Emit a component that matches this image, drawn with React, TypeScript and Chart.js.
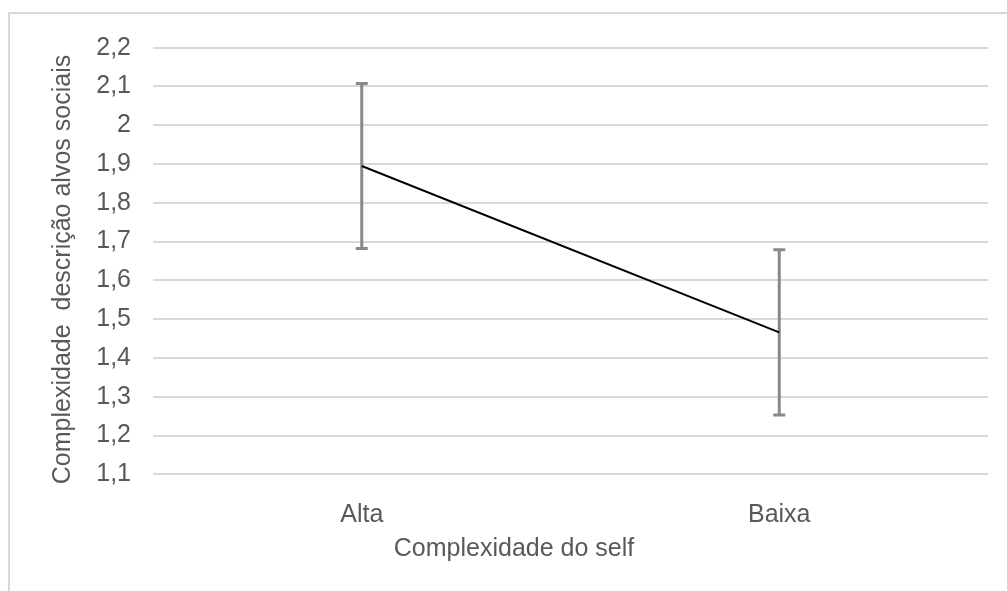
import React, { useEffect, useRef } from "react";
import { Chart, registerables } from "chart.js";

Chart.register(...registerables);

const categories = ["Alta", "Baixa"];
const means = [1.895, 1.466];
const errors = [0.213, 0.213];
const yMin = 1.1;
const yMax = 2.2;
const yStep = 0.1;
const xTitle = "Complexidade do self";
const yTitle = "Complexidade  descrição alvos sociais";

const FONT = "'Liberation Sans', Arial, sans-serif";
const TEXT = "#595959";
const GRID = "#d9d9d9";

const errorBarPlugin = {
  id: "errorBars",
  beforeDatasetsDraw(chart: any) {
    const { ctx, scales } = chart;
    const xs = scales.x;
    const ys = scales.y;
    ctx.save();
    ctx.strokeStyle = "#898989";
    ctx.lineWidth = 3;
    ctx.lineCap = "butt";
    means.forEach((m, i) => {
      const x = xs.getPixelForValue(i);
      const top = ys.getPixelForValue(m + errors[i]);
      const bot = ys.getPixelForValue(m - errors[i]);
      ctx.beginPath();
      ctx.moveTo(x, top);
      ctx.lineTo(x, bot);
      ctx.moveTo(x - 6, top);
      ctx.lineTo(x + 6, top);
      ctx.moveTo(x - 6, bot);
      ctx.lineTo(x + 6, bot);
      ctx.stroke();
    });
    ctx.restore();
  },
};

// Axis titles, placed as in the reference (centred on the whole chart frame)
const axisTitlePlugin = {
  id: "axisTitles",
  afterDraw(chart: any) {
    const { ctx } = chart;
    ctx.save();
    ctx.fillStyle = TEXT;
    ctx.font = `25px ${FONT}`;
    ctx.textAlign = "center";
    ctx.textBaseline = "middle";
    ctx.fillText(xTitle, 514, 549.6);
    ctx.translate(63.5, 269.5);
    ctx.rotate(-Math.PI / 2);
    ctx.fillText(yTitle, 0, 0);
    ctx.restore();
  },
};

export default function App() {
  const ref = useRef<HTMLCanvasElement>(null);
  useEffect(() => {
    if (!ref.current) return;
    const chart = new Chart(ref.current, {
      type: "line",
      data: {
        labels: categories,
        datasets: [
          {
            data: means,
            borderColor: "#000000",
            borderWidth: 2,
            pointRadius: 0,
            fill: false,
            tension: 0,
          },
        ],
      },
      options: {
        animation: false,
        responsive: false,
        maintainAspectRatio: false,
        layout: { padding: { top: 47.7, right: 19, left: 0, bottom: 0 } },
        plugins: { legend: { display: false }, tooltip: { enabled: false } },
        scales: {
          x: {
            offset: true,
            grid: { display: false, drawTicks: false },
            border: { display: false },
            ticks: {
              padding: 25.5,
              color: TEXT,
              font: { family: FONT, size: 25 },
              maxRotation: 0,
            },
            title: { display: false },
            afterFit(scale: any) {
              scale.height = 116.7;
            },
          },
          y: {
            min: yMin,
            max: yMax,
            grid: { color: GRID, lineWidth: 2, drawTicks: false },
            border: { display: false },
            ticks: {
              stepSize: yStep,
              padding: 22,
              color: TEXT,
              font: { family: FONT, size: 25 },
              callback: (v: any) =>
                String(Number(Number(v).toFixed(2))).replace(".", ","),
            },
            title: { display: false },
            afterFit(scale: any) {
              scale.width = 153;
            },
          },
        },
      },
      plugins: [errorBarPlugin, axisTitlePlugin],
    });
    return () => chart.destroy();
  }, []);

  return (
    <div
      style={{
        position: "fixed",
        left: 0,
        top: 0,
        width: 1007,
        height: 591,
        overflow: "hidden",
        background: "#ffffff",
      }}
    >
      <div
        style={{
          position: "absolute",
          left: 8,
          top: 12,
          width: 1100,
          height: 700,
          borderLeft: `2px solid ${GRID}`,
          borderTop: `2px solid ${GRID}`,
        }}
      />
      <canvas
        ref={ref}
        width={1007}
        height={591}
        style={{ position: "absolute", left: 0, top: 0, width: 1007, height: 591 }}
      />
    </div>
  );
}
